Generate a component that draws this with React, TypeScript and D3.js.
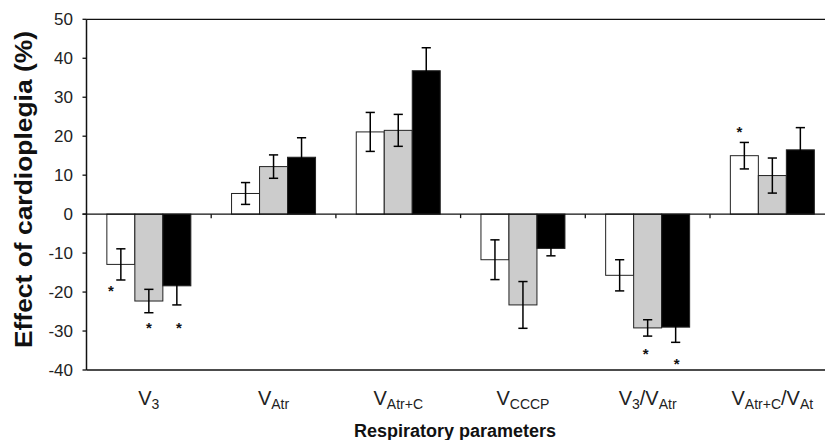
import React from "react";
import * as d3 from "d3";

const categories = ["V3", "VAtr", "VAtr+C", "VCCCP", "V3/VAtr", "VAtr+C/VAt"];
const categoryLabelParts: [string, boolean][][] = [
  [["V", false], ["3", true]],
  [["V", false], ["Atr", true]],
  [["V", false], ["Atr+C", true]],
  [["V", false], ["CCCP", true]],
  [["V", false], ["3", true], ["/V", false], ["Atr", true]],
  [["V", false], ["Atr+C", true], ["/V", false], ["At", true]],
];
const seriesNames = ["s1", "s2", "s3"];
const seriesFill = ["#ffffff", "#cccccc", "#000000"];
const values1 = [-12.9, 5.3, 21.1, -11.7, -15.7, 15.0];
const values2 = [-22.3, 12.2, 21.5, -23.3, -29.2, 9.9];
const values3 = [-18.4, 14.6, 36.8, -8.8, -29.0, 16.5];
const errors1 = [4.0, 2.8, 5.0, 5.1, 4.0, 3.4];
const errors2 = [3.0, 3.0, 4.1, 6.0, 2.1, 4.5];
const errors3 = [4.9, 5.0, 5.9, 1.9, 3.9, 5.7];
const yTicks = [50, 40, 30, 20, 10, 0, -10, -20, -30, -40];
// significance stars: category index, series index, value position, x nudge
const starCat = [0, 0, 0, 4, 4, 5];
const starSeries = [0, 1, 2, 1, 2, 0];
const starValue = [-18.8, -28.3, -28.3, -35.1, -37.5, 22.0];
const starNudge = [-10, 0, 2, -2, 1, -5];

const W = 825;
const H = 440;
const plot = { left: 86.5, right: 834.7, top: 19.3, bottom: 370 };

export default function App() {
  const values = [values1, values2, values3];
  const errors = [errors1, errors2, errors3];
  const x = d3.scaleBand<string>().domain(categories).range([plot.left, plot.right]).paddingInner(0).paddingOuter(0);
  const xs = d3.scaleBand<string>().domain(seriesNames).range([0, x.bandwidth()]).paddingInner(0).paddingOuter(0.727);
  const y = d3.scaleLinear().domain([-40, 50]).range([plot.bottom, plot.top]);
  const font = "'Liberation Sans', Arial, sans-serif";
  const bw = xs.bandwidth();
  const cap = 4.6;

  return (
    <svg width={W} height={H} style={{ position: "absolute", left: 0, top: 0, background: "#fff" }} fontFamily={font}>
      <rect x={0} y={0} width={W} height={H} fill="#fff" />
      {/* bars */}
      {categories.map((c, ci) =>
        seriesNames.map((s, si) => {
          const v = values[si][ci];
          const bx = (x(c) as number) + (xs(s) as number);
          return (
            <rect
              key={c + s}
              x={bx}
              y={Math.min(y(v), y(0))}
              width={bw}
              height={Math.abs(y(v) - y(0))}
              fill={seriesFill[si]}
              stroke="#222"
              strokeWidth={1}
            />
          );
        })
      )}
      {/* error bars */}
      {categories.map((c, ci) =>
        seriesNames.map((s, si) => {
          const v = values[si][ci];
          const e = errors[si][ci];
          const cx = (x(c) as number) + (xs(s) as number) + bw / 2;
          const y1 = y(v + e);
          const y2 = y(v - e);
          return (
            <g key={"e" + c + s} stroke="#000" strokeWidth={1.5}>
              <line x1={cx} x2={cx} y1={y1} y2={y2} />
              <line x1={cx - cap} x2={cx + cap} y1={y1} y2={y1} />
              <line x1={cx - cap} x2={cx + cap} y1={y2} y2={y2} />
            </g>
          );
        })
      )}
      {/* frame lines */}
      <line x1={plot.left} x2={plot.right} y1={plot.top} y2={plot.top} stroke="#111" strokeWidth={1.3} />
      <line x1={plot.left} x2={plot.right} y1={plot.bottom} y2={plot.bottom} stroke="#111" strokeWidth={1.3} />
      <line x1={plot.left - 4} x2={plot.right} y1={y(0)} y2={y(0)} stroke="#111" strokeWidth={1.3} />
      <line x1={plot.left} x2={plot.left} y1={plot.top} y2={plot.bottom} stroke="#111" strokeWidth={1.5} />
      {/* y ticks */}
      {yTicks.map((t) => (
        <g key={"t" + t}>
          <line x1={plot.left - 4} x2={plot.left} y1={y(t)} y2={y(t)} stroke="#111" strokeWidth={1.3} />
          <text x={plot.left - 13.5} y={y(t)} dy="0.35em" textAnchor="end" fontSize={17} fill="#222">
            {t}
          </text>
        </g>
      ))}
      {/* x category ticks */}
      {categories.slice(1).map((c) => (
        <line key={"xt" + c} x1={x(c) as number} x2={x(c) as number} y1={y(0)} y2={y(0) + 4} stroke="#111" strokeWidth={1.3} />
      ))}
      {/* stars */}
      {starCat.map((ci, i) => {
        const c = categories[ci];
        const cx = (x(c) as number) + (xs(seriesNames[starSeries[i]]) as number) + bw / 2 + starNudge[i];
        return (
          <text key={"s" + i} x={cx} y={y(starValue[i]) + 8.5} textAnchor="middle" fontSize={15} fontWeight="bold" fill="#111">
            *
          </text>
        );
      })}
      {/* category labels */}
      {categories.map((c, ci) => (
        <text key={"cl" + c} x={(x(c) as number) + x.bandwidth() / 2} y={405} textAnchor="middle" fontSize={20} fill="#222">
          {categoryLabelParts[ci].map(([t, sub], k) =>
            sub ? (
              <tspan key={k} fontSize={14} dy={4}>
                {t}
              </tspan>
            ) : (
              <tspan key={k} dy={k === 0 ? 0 : -4}>
                {t}
              </tspan>
            )
          )}
        </text>
      ))}
      {/* axis titles */}
      <text x={455} y={436.5} textAnchor="middle" fontSize={18} fontWeight="bold" fill="#111">
        Respiratory parameters
      </text>
      <text
        transform={`translate(32,189.5) rotate(-90) scale(1.15,1)`}
        textAnchor="middle"
        fontSize={23}
        fontWeight="bold"
        fill="#111"
      >
        Effect of cardioplegia (%)
      </text>
    </svg>
  );
}
